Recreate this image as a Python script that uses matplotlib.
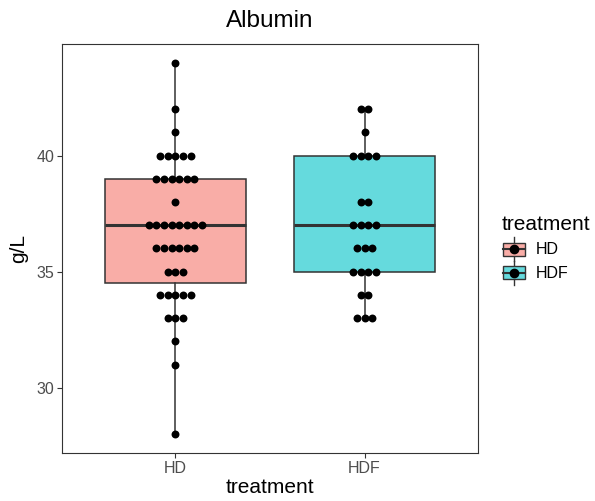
import matplotlib
matplotlib.use("Agg")
import matplotlib.pyplot as plt
from matplotlib.legend_handler import HandlerBase
from matplotlib.patches import Rectangle
from matplotlib.lines import Line2D
import numpy as np

plt.rcParams['font.family'] = ['Liberation Sans', 'DejaVu Sans']

categories = ["HD", "HDF"]
# value -> count of points
hd_values = [44, 42, 41, 40, 39, 38, 37, 36, 35, 34, 33, 32, 31, 28]
hd_counts = [1, 1, 1, 5, 6, 1, 8, 6, 3, 5, 3, 1, 1, 1]
hdf_values = [42, 41, 40, 38, 37, 36, 35, 34, 33]
hdf_counts = [2, 1, 4, 2, 4, 3, 4, 2, 3]
fills = ["#F9ADA7", "#65DADD"]
yticks = [30, 35, 40]

groups = [np.repeat(hd_values, hd_counts), np.repeat(hdf_values, hdf_counts)]

W, H = 595, 501
fig = plt.figure(figsize=(W / 100, H / 100), dpi=100)
ax = fig.add_axes([62 / W, 48 / H, (478 - 62) / W, (453 - 44) / H])

edge = "#333333"
positions = [1, 2]
stats = []
for g in groups:
    q1, med, q3 = np.percentile(g, [25, 50, 75])
    iqr = q3 - q1
    lo = g[g >= q1 - 1.5 * iqr].min()
    hi = g[g <= q3 + 1.5 * iqr].max()
    stats.append(dict(med=med, q1=q1, q3=q3, whislo=lo, whishi=hi, fliers=[]))

bp = ax.bxp(stats, positions=positions, widths=0.75, patch_artist=True,
            showcaps=False, showfliers=False,
            boxprops=dict(edgecolor=edge, linewidth=1.1),
            whiskerprops=dict(color=edge, linewidth=1.1),
            medianprops=dict(color=edge, linewidth=2.2))
for patch, c in zip(bp['boxes'], fills):
    patch.set_facecolor(c)

ax.set_xlim(0.4, 2.6)
ymin = 28 - 0.05 * 16
ymax = 44 + 0.05 * 16
ax.set_ylim(ymin, ymax)

# dot stacking (centered)
px_per_unit = (478 - 62) / 2.2
dot_px = 7.6
spacing = dot_px / px_per_unit
for pos, vals, cnts in zip(positions, [hd_values, hdf_values], [hd_counts, hdf_counts]):
    xs, ys = [], []
    for v, n in zip(vals, cnts):
        for i in range(n):
            xs.append(pos + (i - (n - 1) / 2) * spacing)
            ys.append(v)
    ax.scatter(xs, ys, s=(dot_px * 0.75) ** 2, color="black", zorder=5, linewidths=0)

ax.set_xticks(positions)
ax.set_xticklabels(categories)
ax.set_yticks(yticks)
ax.tick_params(axis='both', colors="#333333", labelcolor="#4D4D4D", labelsize=11.5,
               length=3.5, width=0.8, pad=2)
for s in ax.spines.values():
    s.set_color("#333333")
    s.set_linewidth(0.8)

ax.set_xlabel("treatment", fontsize=15, labelpad=2)
ax.set_ylabel("g/L", fontsize=15, labelpad=6)
ax.set_title("Albumin", fontsize=17.5, pad=12)


class BoxHandler(HandlerBase):
    def __init__(self, color):
        super().__init__()
        self.color = color

    def create_artists(self, legend, orig_handle, xdescent, ydescent, width, height, fontsize, trans):
        cx = width / 2 - xdescent
        artists = []
        artists.append(Line2D([cx, cx], [-ydescent - 3, height - ydescent + 3], color=edge, lw=1.0, transform=trans))
        r = Rectangle((-xdescent + 1, -ydescent + 1), width - 2, height - 2, facecolor=self.color,
                      edgecolor=edge, lw=1.0, transform=trans)
        artists.append(r)
        artists.append(Line2D([-xdescent + 1, width - xdescent - 1], [height / 2 - ydescent] * 2, color=edge, lw=1.5, transform=trans))
        artists.append(Line2D([cx], [height / 2 - ydescent], marker='o', markersize=6.0, color='black', lw=0, transform=trans))
        return artists


h1 = Rectangle((0, 0), 1, 1)
h2 = Rectangle((0, 0), 1, 1, label="b")
leg = fig.legend([h1, h2], categories, title="treatment",
                 handler_map={h1: BoxHandler(fills[0]), h2: BoxHandler(fills[1])},
                 loc="center left", bbox_to_anchor=(490 / W, 1 - 248 / H),
                 frameon=False, fontsize=11.5, title_fontsize=15,
                 handlelength=1.55, handleheight=1.15, handletextpad=0.6,
                 labelspacing=0.45, borderpad=0.2)
leg._legend_box.align = "left"

fig.savefig("out.png", dpi=100)
